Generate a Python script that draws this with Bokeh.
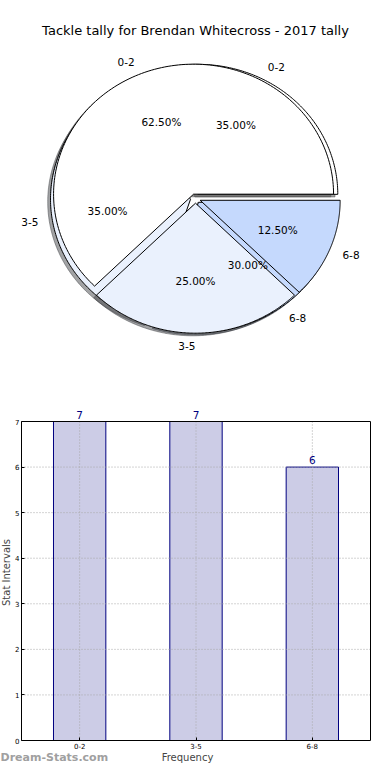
import numpy as np
from bokeh.plotting import figure
from bokeh.models import Range1d, ColumnDataSource, Label, FixedTicker
from bokeh.layouts import column
from bokeh.embed import file_html
from bokeh.resources import INLINE
from bokeh.core.properties import value

# ---------------- data ----------------
title_text = "Tackle tally for Brendan Whitecross - 2017 tally"
categories = ["0-2", "3-5", "6-8"]
frequency = [7, 7, 6]               # bar heights (first pie: 35 / 35 / 30 %)
share_2017 = [62.5, 25.0, 12.5]     # second pie (%)
pie_colors = ["#ffffff", "#eaf1fd", "#c5d9fd"]
y_ticks = [0, 1, 2, 3, 4, 5, 6, 7]

FONT = "DejaVu Sans"
W, PH, BH = 374, 380, 384

# ---------------- pie figure (pixel coordinates) ----------------
p1 = figure(width=W, height=PH, x_range=Range1d(0, W), y_range=Range1d(PH, 0),
            output_backend="svg", toolbar_location=None, x_axis_location=None,
            y_axis_location=None, min_border=0, min_border_left=0, min_border_right=0,
            min_border_top=0, min_border_bottom=0)
p1.outline_line_color = None
p1.grid.visible = False

CX, CY, RX, RY = 195.0, 198.0, 140.0, 130.0
EXPLODE = 0.036
SHADOW = 0.02


def dark(hexcol, f=0.3):
    h = hexcol.lstrip("#")
    r, g, b = (int(h[i:i + 2], 16) for i in (0, 2, 4))
    return "#%02x%02x%02x" % (int(r * f), int(g * f), int(b * f))


def pie_parts(values):
    fr = np.asarray(values, float) / np.sum(values)
    edges = np.concatenate([[0.0], np.cumsum(fr)]) * 2 * np.pi
    xs, ys, sxs, sys_, cols, scol = [], [], [], [], [], []
    txt = []
    for i in range(len(fr)):
        a0, a1 = edges[i], edges[i + 1]
        mid = 0.5 * (a0 + a1)
        cx = CX + EXPLODE * RX * np.cos(mid)
        cy = CY - EXPLODE * RY * np.sin(mid)
        t = np.linspace(a0, a1, 160)
        px = np.concatenate([[cx], cx + RX * np.cos(t)])
        py = np.concatenate([[cy], cy - RY * np.sin(t)])
        xs.append(list(px)); ys.append(list(py))
        sxs.append(list(px - SHADOW * RX)); sys_.append(list(py + SHADOW * RY))
        cols.append(pie_colors[i]); scol.append(dark(pie_colors[i]))
        c = np.cos(mid)
        txt.append(dict(lx=cx + 1.1 * RX * c, ly=cy - 1.1 * RY * np.sin(mid),
                        la="left" if c > 0 else "right", lab=categories[i],
                        px=cx + 0.6 * RX * c, py=cy - 0.6 * RY * np.sin(mid),
                        pct="%.2f%%" % (fr[i] * 100)))
    return (ColumnDataSource(dict(xs=xs, ys=ys, c=cols)),
            ColumnDataSource(dict(xs=sxs, ys=sys_, c=scol)), txt)


pieA, shA, txtA = pie_parts(frequency)
pieB, shB, txtB = pie_parts(share_2017)

for sh in (shA, shB):
    p1.patches("xs", "ys", source=sh, fill_color="c", line_color="c", fill_alpha=0.5, line_alpha=0.5)
for pc in (pieA, pieB):
    p1.patches("xs", "ys", source=pc, fill_color="c", line_color="black", line_width=1)

for txt in (txtA, txtB):
    for al in ("left", "right"):
        rows = [r for r in txt if r["la"] == al]
        if rows:
            p1.text(x=[r["lx"] for r in rows], y=[r["ly"] for r in rows], text=[r["lab"] for r in rows],
                    text_align=al, text_baseline="middle", text_font=value(FONT),
                    text_font_size=value("10.5px"), text_color="black")
    p1.text(x=[r["px"] for r in txt], y=[r["py"] for r in txt], text=[r["pct"] for r in txt],
            text_align="center", text_baseline="middle", text_font=value(FONT),
            text_font_size=value("10.5px"), text_color="black")

p1.text(x=[195], y=[30], text=[title_text], text_align="center", text_baseline="middle",
        text_font=value(FONT), text_font_size=value("13px"), text_color="black")

# ---------------- bar figure ----------------
x_pos = list(range(1, len(categories) + 1))       # category slots 1..n
y_top = max(y_ticks)
FR_L, FR_R, FR_T, FR_B = 21, 370, 421, 740   # page position of the plot box
PX_Y = (FR_B - FR_T) / 7.0                    # px per y unit
PX_X = (FR_R - FR_L) / 3.0                    # px per category slot
x_lo = 0.5 - FR_L / PX_X
x_hi = len(categories) + 0.5 + (W - FR_R) / PX_X
y_hi = y_top + (FR_T - PH) / PX_Y
y_lo = -(PH + BH - FR_B) / PX_Y

p2 = figure(width=W, height=BH, x_range=Range1d(x_lo, x_hi), y_range=Range1d(y_lo, y_hi),
            output_backend="svg", toolbar_location=None, min_border=0, min_border_left=0,
            min_border_right=0, min_border_top=0, min_border_bottom=0)
src = ColumnDataSource(dict(x=x_pos, cat=categories, val=frequency))
p2.vbar(x="x", top="val", width=0.45, source=src, fill_color="navy", fill_alpha=0.2,
        line_color="navy", line_width=1)

GRID = dict(line_color="#a8a8a8", line_dash="1 2", line_width=1)
p2.grid.visible = False
gsrc = ColumnDataSource(dict(y=y_ticks[1:-1]))
p2.segment(x0=0.5, y0="y", x1=len(categories) + 0.5, y1="y", source=gsrc, **GRID)
p2.segment(x0="x", y0=0, x1="x", y1=y_top, source=src, **GRID)
p2.quad(left=[0.5], right=[len(categories) + 0.5], bottom=[0], top=[y_top],
        fill_color=None, line_color="black", line_width=1)
p2.outline_line_color = None

p2.yaxis.ticker = FixedTicker(ticks=y_ticks)
p2.xaxis.ticker = FixedTicker(ticks=x_pos)
p2.xaxis.major_label_overrides = {int(x): c for x, c in zip(x_pos, categories)}
p2.yaxis.fixed_location = 0.5
p2.xaxis.fixed_location = 0
p2.axis.major_label_text_font = FONT
p2.axis.major_label_text_font_size = "7px"
p2.axis.major_label_text_color = "black"
p2.axis.major_tick_in = 3
p2.axis.major_tick_out = 0
p2.axis.minor_tick_line_color = None
p2.axis.major_tick_line_color = "black"
p2.axis.major_label_standoff = 2
p2.axis.axis_line_color = None
p2.yaxis.axis_label = "Stat Intervals"
p2.xaxis.axis_label = "Frequency"
p2.axis.axis_label_text_font = FONT
p2.axis.axis_label_text_font_size = "10px"
p2.axis.axis_label_text_font_style = "normal"
p2.yaxis.axis_label_standoff = 0
p2.xaxis.axis_label_standoff = 0

for x, v in zip(x_pos, frequency):
    p2.add_layout(Label(x=x, y=v, y_offset=3, text=str(v), text_align="center",
                        text_baseline="bottom", text_color="navy", text_font=FONT,
                        text_font_size="10.5px"))

p2.add_layout(Label(x=0, y=1, x_units="screen", y_units="screen", text="Dream-Stats.com",
                    text_align="left", text_baseline="bottom", text_font=FONT,
                    text_font_size="11px", text_font_style="bold", text_color="#a0a0a0"))

layout = column(p1, p2, spacing=0)
open("out.html", "w").write(file_html(layout, INLINE))
